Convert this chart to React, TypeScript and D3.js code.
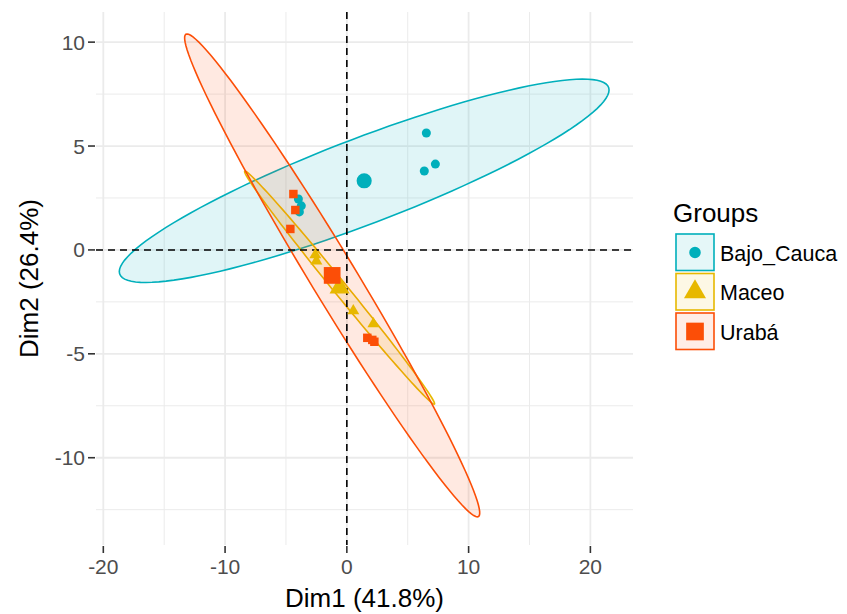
import React from "react";
import * as d3 from "d3";

// Individuals on the first two PCA dimensions, by group
const groups = ["Bajo_Cauca", "Maceo", "Urabá"];
const groupColors = ["#00AFBB", "#E7B800", "#FC4E07"];

const bajoCaucaDim1 = [6.53, 7.27, 6.36, -3.98, -3.74, -3.9];
const bajoCaucaDim2 = [5.63, 4.13, 3.8, 2.45, 2.12, 1.83];
const maceoDim1 = [-2.59, -2.5, 0.53, 2.18];
const maceoDim2 = [-0.24, -0.53, -2.93, -3.56];
const urabaDim1 = [-4.39, -4.23, -4.64, 1.68, 2.26, 2.09];
const urabaDim2 = [2.69, 1.92, 1.01, -4.23, -4.42, -4.33];

// Conjugate semi-diameters of each group's concentration ellipse (Dim1, Dim2 units)
const ellipseAxisA = [
  [20.11, 4.37],
  [-7.77, 5.61],
  [-11.92, 11.62],
];
const ellipseAxisB = [
  [0, 2.2],
  [0.7, 0],
  [2.18, 0],
];

const xMajorTicks = [-20, -10, 0, 10, 20];
const xMinorTicks = [-15, -5, 5, 15];
const yMajorTicks = [-10, -5, 0, 5, 10];
const yMinorTicks = [-12.5, -7.5, -2.5, 2.5, 7.5];

const xTitle = "Dim1 (41.8%)";
const yTitle = "Dim2 (26.4%)";
const legendTitle = "Groups";

const groupDim1 = [bajoCaucaDim1, maceoDim1, urabaDim1];
const groupDim2 = [bajoCaucaDim2, maceoDim2, urabaDim2];
const symbolTypes = [d3.symbolCircle, d3.symbolTriangle, d3.symbolSquare];
const pointSizes = [64, 62, 72];
const meanSizes = [180, 175, 280];
const legendSizes = [105, 210, 313];

const FONT = "'Liberation Sans', Arial, Helvetica, sans-serif";

export default function App() {
  const width = 847;
  const height = 614;
  const panel = { left: 96, right: 633, top: 12, bottom: 545 };

  const x = d3.scaleLinear().domain([-20.6, 23.5]).range([panel.left, panel.right]);
  const y = d3.scaleLinear().domain([-14.2, 11.45]).range([panel.bottom, panel.top]);

  const line = d3
    .line<[number, number]>()
    .x((d) => x(d[0]))
    .y((d) => y(d[1]))
    .curve(d3.curveLinearClosed);

  const means = groups.map((_, g) => [
    d3.mean(groupDim1[g]) as number,
    d3.mean(groupDim2[g]) as number,
  ]);

  const ellipsePaths = groups.map((_, g) => {
    const [cx, cy] = means[g];
    const [ax, ay] = ellipseAxisA[g];
    const [bx, by] = ellipseAxisB[g];
    const pts: [number, number][] = d3.range(120).map((i) => {
      const t = (i / 120) * Math.PI * 2;
      return [cx + ax * Math.cos(t) + bx * Math.sin(t), cy + ay * Math.cos(t) + by * Math.sin(t)];
    });
    return line(pts) as string;
  });

  const sym = (g: number, size: number) => d3.symbol().type(symbolTypes[g]).size(size)() as string;

  const legendX = 676;
  const legendRowY = [234, 273.5, 313];
  const keySize = 38;

  return (
    <svg width={width} height={height} style={{ position: "absolute", left: 0, top: 0, background: "#fff" }}>
      <rect x={0} y={0} width={width} height={height} fill="#fff" />
      {/* grid */}
      <g>
        {xMinorTicks.map((t) => (
          <line key={"xm" + t} x1={x(t)} x2={x(t)} y1={panel.top} y2={panel.bottom} stroke="#EBEBEB" strokeWidth={1} />
        ))}
        {yMinorTicks.map((t) => (
          <line key={"ym" + t} x1={panel.left} x2={panel.right} y1={y(t)} y2={y(t)} stroke="#EBEBEB" strokeWidth={1} />
        ))}
        {xMajorTicks.map((t) => (
          <line key={"xM" + t} x1={x(t)} x2={x(t)} y1={panel.top} y2={panel.bottom} stroke="#EBEBEB" strokeWidth={1.8} />
        ))}
        {yMajorTicks.map((t) => (
          <line key={"yM" + t} x1={panel.left} x2={panel.right} y1={y(t)} y2={y(t)} stroke="#EBEBEB" strokeWidth={1.8} />
        ))}
      </g>
      {/* ellipses */}
      <g>
        {ellipsePaths.map((d, g) => (
          <path key={"e" + g} d={d} fill={groupColors[g]} fillOpacity={0.12} stroke={groupColors[g]} strokeWidth={1.6} />
        ))}
      </g>
      {/* reference lines */}
      <line x1={panel.left} x2={panel.right} y1={y(0)} y2={y(0)} stroke="#000" strokeWidth={1.6} strokeDasharray="7,5" />
      <line x1={x(0)} x2={x(0)} y1={panel.top} y2={panel.bottom} stroke="#000" strokeWidth={1.6} strokeDasharray="7,5" />
      {/* individuals */}
      <g>
        {groups.map((_, g) =>
          groupDim1[g].map((v, i) => (
            <path
              key={`p${g}-${i}`}
              d={sym(g, pointSizes[g])}
              transform={`translate(${x(v)},${y(groupDim2[g][i])})`}
              fill={groupColors[g]}
            />
          ))
        )}
        {means.map((m, g) => (
          <path key={"m" + g} d={sym(g, meanSizes[g])} transform={`translate(${x(m[0])},${y(m[1])})`} fill={groupColors[g]} />
        ))}
      </g>
      {/* axes */}
      <g fontFamily={FONT} fontSize={21} fill="#4D4D4D">
        {xMajorTicks.map((t) => (
          <g key={"xt" + t}>
            <line x1={x(t)} x2={x(t)} y1={panel.bottom + 1} y2={panel.bottom + 8} stroke="#333" strokeWidth={1.6} />
            <text x={x(t)} y={panel.bottom + 29} textAnchor="middle">
              {t}
            </text>
          </g>
        ))}
        {yMajorTicks.map((t) => (
          <g key={"yt" + t}>
            <line x1={panel.left - 8} x2={panel.left - 1} y1={y(t)} y2={y(t)} stroke="#333" strokeWidth={1.6} />
            <text x={panel.left - 11} y={y(t)} dy="0.36em" textAnchor="end">
              {t}
            </text>
          </g>
        ))}
      </g>
      <text x={(panel.left + panel.right) / 2} y={607} textAnchor="middle" fontFamily={FONT} fontSize={26} fill="#000">
        {xTitle}
      </text>
      <text
        transform={`translate(38,${(panel.top + panel.bottom) / 2}) rotate(-90)`}
        textAnchor="middle"
        fontFamily={FONT}
        fontSize={26}
        fill="#000"
      >
        {yTitle}
      </text>
      {/* legend */}
      <g fontFamily={FONT}>
        <text x={673} y={222} fontSize={26} fill="#000">
          {legendTitle}
        </text>
        {groups.map((name, g) => (
          <g key={"l" + g}>
            <rect
              x={legendX}
              y={legendRowY[g]}
              width={keySize}
              height={keySize - 1.5}
              fill={groupColors[g]}
              fillOpacity={0.1}
              stroke={groupColors[g]}
              strokeWidth={1.6}
            />
            <path
              d={sym(g, legendSizes[g])}
              transform={`translate(${legendX + keySize / 2},${legendRowY[g] + keySize / 2 - 0.5})`}
              fill={groupColors[g]}
            />
            <text x={720} y={legendRowY[g] + keySize / 2 + 7.5} fontSize={21.5} fill="#000">
              {name}
            </text>
          </g>
        ))}
      </g>
    </svg>
  );
}
